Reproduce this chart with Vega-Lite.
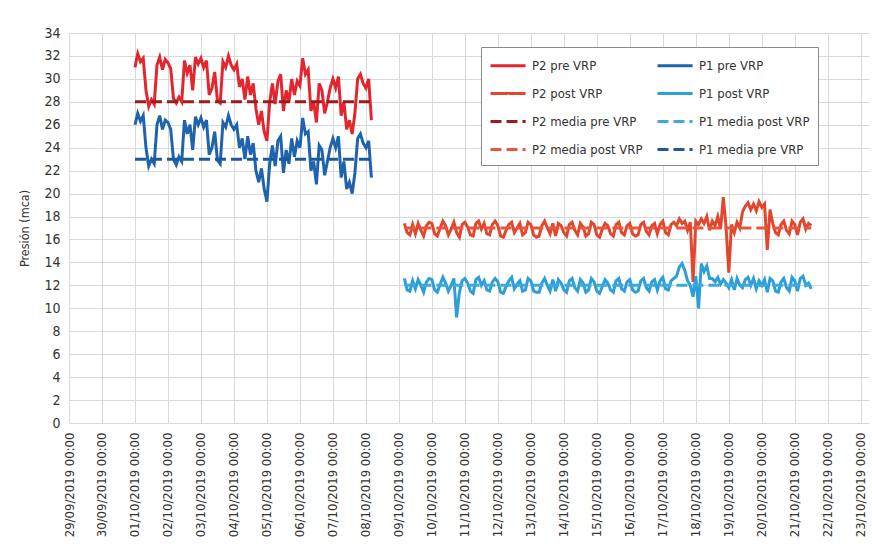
{
  "$schema": "https://vega.github.io/schema/vega-lite/v6.json",
  "width": 800,
  "height": 390,
  "autosize": {"type": "none"},
  "padding": {"left": 69, "top": 33, "right": 3, "bottom": 124},
  "background": "white",
  "config": {
    "view": {"stroke": null},
    "font": "DejaVu Sans Condensed, Liberation Sans, sans-serif",
    "axis": {"gridColor": "#d9d9d9", "gridWidth": 1, "domain": false, "ticks": false, "labelColor": "#333333", "labelFont": "DejaVu Sans Condensed, Liberation Sans, sans-serif", "titleFont": "DejaVu Sans Condensed, Liberation Sans, sans-serif", "titleFontWeight": "normal", "titleColor": "#333333"},
    "legend": {"labelFont": "DejaVu Sans Condensed, Liberation Sans, sans-serif"}
  },
  "datasets": {
    "pre": [
      {"t":"2019-10-01T00:00","P2 pre VRP":31.0,"P1 pre VRP":26.0},
      {"t":"2019-10-01T02:00","P2 pre VRP":32.2,"P1 pre VRP":27.0},
      {"t":"2019-10-01T04:00","P2 pre VRP":31.5,"P1 pre VRP":26.3},
      {"t":"2019-10-01T06:00","P2 pre VRP":31.8,"P1 pre VRP":26.8},
      {"t":"2019-10-01T08:00","P2 pre VRP":29.0,"P1 pre VRP":24.0},
      {"t":"2019-10-01T10:00","P2 pre VRP":27.6,"P1 pre VRP":22.4},
      {"t":"2019-10-01T12:00","P2 pre VRP":28.2,"P1 pre VRP":23.0},
      {"t":"2019-10-01T14:00","P2 pre VRP":27.8,"P1 pre VRP":22.6},
      {"t":"2019-10-01T16:00","P2 pre VRP":31.2,"P1 pre VRP":26.0},
      {"t":"2019-10-01T18:00","P2 pre VRP":31.9,"P1 pre VRP":26.8},
      {"t":"2019-10-01T20:00","P2 pre VRP":30.8,"P1 pre VRP":25.6},
      {"t":"2019-10-01T22:00","P2 pre VRP":31.7,"P1 pre VRP":26.4},
      {"t":"2019-10-02T00:00","P2 pre VRP":31.4,"P1 pre VRP":26.2},
      {"t":"2019-10-02T02:00","P2 pre VRP":30.9,"P1 pre VRP":25.6},
      {"t":"2019-10-02T04:00","P2 pre VRP":28.3,"P1 pre VRP":23.0},
      {"t":"2019-10-02T06:00","P2 pre VRP":27.9,"P1 pre VRP":22.5},
      {"t":"2019-10-02T08:00","P2 pre VRP":28.4,"P1 pre VRP":23.2},
      {"t":"2019-10-02T10:00","P2 pre VRP":28.0,"P1 pre VRP":22.8},
      {"t":"2019-10-02T12:00","P2 pre VRP":31.6,"P1 pre VRP":26.4},
      {"t":"2019-10-02T14:00","P2 pre VRP":30.5,"P1 pre VRP":25.2},
      {"t":"2019-10-02T16:00","P2 pre VRP":31.2,"P1 pre VRP":26.0},
      {"t":"2019-10-02T18:00","P2 pre VRP":29.0,"P1 pre VRP":23.8},
      {"t":"2019-10-02T20:00","P2 pre VRP":31.9,"P1 pre VRP":26.7},
      {"t":"2019-10-02T22:00","P2 pre VRP":31.3,"P1 pre VRP":26.0},
      {"t":"2019-10-03T00:00","P2 pre VRP":31.8,"P1 pre VRP":26.6},
      {"t":"2019-10-03T02:00","P2 pre VRP":31.0,"P1 pre VRP":25.8},
      {"t":"2019-10-03T04:00","P2 pre VRP":31.6,"P1 pre VRP":26.4},
      {"t":"2019-10-03T06:00","P2 pre VRP":28.6,"P1 pre VRP":23.4},
      {"t":"2019-10-03T08:00","P2 pre VRP":29.2,"P1 pre VRP":24.0},
      {"t":"2019-10-03T10:00","P2 pre VRP":30.6,"P1 pre VRP":25.4},
      {"t":"2019-10-03T12:00","P2 pre VRP":28.1,"P1 pre VRP":22.9},
      {"t":"2019-10-03T14:00","P2 pre VRP":27.9,"P1 pre VRP":22.6},
      {"t":"2019-10-03T16:00","P2 pre VRP":31.5,"P1 pre VRP":26.2},
      {"t":"2019-10-03T18:00","P2 pre VRP":31.0,"P1 pre VRP":25.8},
      {"t":"2019-10-03T20:00","P2 pre VRP":32.0,"P1 pre VRP":26.8},
      {"t":"2019-10-03T22:00","P2 pre VRP":31.2,"P1 pre VRP":26.0},
      {"t":"2019-10-04T00:00","P2 pre VRP":30.8,"P1 pre VRP":25.6},
      {"t":"2019-10-04T02:00","P2 pre VRP":31.3,"P1 pre VRP":26.0},
      {"t":"2019-10-04T04:00","P2 pre VRP":29.3,"P1 pre VRP":24.0},
      {"t":"2019-10-04T06:00","P2 pre VRP":30.0,"P1 pre VRP":24.8},
      {"t":"2019-10-04T08:00","P2 pre VRP":28.2,"P1 pre VRP":23.0},
      {"t":"2019-10-04T10:00","P2 pre VRP":30.2,"P1 pre VRP":25.0},
      {"t":"2019-10-04T12:00","P2 pre VRP":28.6,"P1 pre VRP":23.4},
      {"t":"2019-10-04T14:00","P2 pre VRP":29.6,"P1 pre VRP":24.4},
      {"t":"2019-10-04T16:00","P2 pre VRP":27.4,"P1 pre VRP":22.0},
      {"t":"2019-10-04T18:00","P2 pre VRP":26.0,"P1 pre VRP":21.0},
      {"t":"2019-10-04T20:00","P2 pre VRP":27.2,"P1 pre VRP":22.2},
      {"t":"2019-10-04T22:00","P2 pre VRP":25.4,"P1 pre VRP":20.4},
      {"t":"2019-10-05T00:00","P2 pre VRP":24.6,"P1 pre VRP":19.3},
      {"t":"2019-10-05T02:00","P2 pre VRP":28.0,"P1 pre VRP":22.6},
      {"t":"2019-10-05T04:00","P2 pre VRP":29.6,"P1 pre VRP":24.2},
      {"t":"2019-10-05T06:00","P2 pre VRP":27.8,"P1 pre VRP":22.4},
      {"t":"2019-10-05T08:00","P2 pre VRP":29.8,"P1 pre VRP":24.6},
      {"t":"2019-10-05T10:00","P2 pre VRP":30.4,"P1 pre VRP":25.0},
      {"t":"2019-10-05T12:00","P2 pre VRP":27.2,"P1 pre VRP":21.8},
      {"t":"2019-10-05T14:00","P2 pre VRP":29.0,"P1 pre VRP":23.8},
      {"t":"2019-10-05T16:00","P2 pre VRP":28.0,"P1 pre VRP":22.6},
      {"t":"2019-10-05T18:00","P2 pre VRP":30.0,"P1 pre VRP":24.8},
      {"t":"2019-10-05T20:00","P2 pre VRP":28.6,"P1 pre VRP":23.2},
      {"t":"2019-10-05T22:00","P2 pre VRP":29.8,"P1 pre VRP":24.6},
      {"t":"2019-10-06T00:00","P2 pre VRP":29.4,"P1 pre VRP":24.0},
      {"t":"2019-10-06T02:00","P2 pre VRP":31.8,"P1 pre VRP":26.6},
      {"t":"2019-10-06T04:00","P2 pre VRP":30.4,"P1 pre VRP":25.2},
      {"t":"2019-10-06T06:00","P2 pre VRP":30.8,"P1 pre VRP":25.4},
      {"t":"2019-10-06T08:00","P2 pre VRP":27.2,"P1 pre VRP":22.0},
      {"t":"2019-10-06T10:00","P2 pre VRP":28.0,"P1 pre VRP":22.8},
      {"t":"2019-10-06T12:00","P2 pre VRP":26.2,"P1 pre VRP":20.8},
      {"t":"2019-10-06T14:00","P2 pre VRP":29.6,"P1 pre VRP":24.2},
      {"t":"2019-10-06T16:00","P2 pre VRP":29.0,"P1 pre VRP":23.8},
      {"t":"2019-10-06T18:00","P2 pre VRP":27.0,"P1 pre VRP":21.6},
      {"t":"2019-10-06T20:00","P2 pre VRP":28.0,"P1 pre VRP":22.8},
      {"t":"2019-10-06T22:00","P2 pre VRP":29.2,"P1 pre VRP":24.0},
      {"t":"2019-10-07T00:00","P2 pre VRP":30.0,"P1 pre VRP":24.8},
      {"t":"2019-10-07T02:00","P2 pre VRP":29.2,"P1 pre VRP":24.0},
      {"t":"2019-10-07T04:00","P2 pre VRP":30.2,"P1 pre VRP":25.0},
      {"t":"2019-10-07T06:00","P2 pre VRP":26.8,"P1 pre VRP":21.4},
      {"t":"2019-10-07T08:00","P2 pre VRP":28.0,"P1 pre VRP":22.8},
      {"t":"2019-10-07T10:00","P2 pre VRP":25.6,"P1 pre VRP":20.4},
      {"t":"2019-10-07T12:00","P2 pre VRP":26.4,"P1 pre VRP":21.0},
      {"t":"2019-10-07T14:00","P2 pre VRP":25.2,"P1 pre VRP":20.0},
      {"t":"2019-10-07T16:00","P2 pre VRP":27.0,"P1 pre VRP":21.8},
      {"t":"2019-10-07T18:00","P2 pre VRP":30.0,"P1 pre VRP":24.8},
      {"t":"2019-10-07T20:00","P2 pre VRP":30.4,"P1 pre VRP":25.2},
      {"t":"2019-10-07T22:00","P2 pre VRP":29.6,"P1 pre VRP":24.4},
      {"t":"2019-10-08T00:00","P2 pre VRP":29.2,"P1 pre VRP":24.0},
      {"t":"2019-10-08T02:00","P2 pre VRP":30.0,"P1 pre VRP":24.6},
      {"t":"2019-10-08T04:00","P2 pre VRP":26.4,"P1 pre VRP":21.4}
    ],
    "post": [
      {"t":"2019-10-09T04:00","P2 post VRP":17.4,"P1 post VRP":12.6},
      {"t":"2019-10-09T06:00","P2 post VRP":16.6,"P1 post VRP":11.6},
      {"t":"2019-10-09T08:00","P2 post VRP":16.4,"P1 post VRP":11.5},
      {"t":"2019-10-09T10:00","P2 post VRP":17.3,"P1 post VRP":12.4},
      {"t":"2019-10-09T12:00","P2 post VRP":16.5,"P1 post VRP":11.7},
      {"t":"2019-10-09T14:00","P2 post VRP":17.4,"P1 post VRP":12.5},
      {"t":"2019-10-09T16:00","P2 post VRP":16.8,"P1 post VRP":12.0},
      {"t":"2019-10-09T18:00","P2 post VRP":16.3,"P1 post VRP":11.4},
      {"t":"2019-10-09T20:00","P2 post VRP":17.2,"P1 post VRP":12.3},
      {"t":"2019-10-09T22:00","P2 post VRP":17.5,"P1 post VRP":12.6},
      {"t":"2019-10-10T00:00","P2 post VRP":17.4,"P1 post VRP":12.5},
      {"t":"2019-10-10T02:00","P2 post VRP":16.5,"P1 post VRP":11.6},
      {"t":"2019-10-10T04:00","P2 post VRP":16.3,"P1 post VRP":11.4},
      {"t":"2019-10-10T06:00","P2 post VRP":17.0,"P1 post VRP":12.1},
      {"t":"2019-10-10T08:00","P2 post VRP":17.6,"P1 post VRP":12.7},
      {"t":"2019-10-10T10:00","P2 post VRP":17.2,"P1 post VRP":12.2},
      {"t":"2019-10-10T12:00","P2 post VRP":16.4,"P1 post VRP":11.5},
      {"t":"2019-10-10T14:00","P2 post VRP":16.9,"P1 post VRP":12.0},
      {"t":"2019-10-10T16:00","P2 post VRP":17.5,"P1 post VRP":12.6},
      {"t":"2019-10-10T18:00","P2 post VRP":16.6,"P1 post VRP":9.2},
      {"t":"2019-10-10T20:00","P2 post VRP":16.2,"P1 post VRP":11.4},
      {"t":"2019-10-10T22:00","P2 post VRP":17.3,"P1 post VRP":12.4},
      {"t":"2019-10-11T00:00","P2 post VRP":17.5,"P1 post VRP":12.6},
      {"t":"2019-10-11T02:00","P2 post VRP":17.1,"P1 post VRP":12.2},
      {"t":"2019-10-11T04:00","P2 post VRP":16.4,"P1 post VRP":11.5},
      {"t":"2019-10-11T06:00","P2 post VRP":16.3,"P1 post VRP":11.3},
      {"t":"2019-10-11T08:00","P2 post VRP":17.4,"P1 post VRP":12.5},
      {"t":"2019-10-11T10:00","P2 post VRP":17.6,"P1 post VRP":12.7},
      {"t":"2019-10-11T12:00","P2 post VRP":16.9,"P1 post VRP":12.0},
      {"t":"2019-10-11T14:00","P2 post VRP":17.4,"P1 post VRP":12.4},
      {"t":"2019-10-11T16:00","P2 post VRP":16.5,"P1 post VRP":11.6},
      {"t":"2019-10-11T18:00","P2 post VRP":16.4,"P1 post VRP":11.5},
      {"t":"2019-10-11T20:00","P2 post VRP":17.3,"P1 post VRP":12.3},
      {"t":"2019-10-11T22:00","P2 post VRP":17.6,"P1 post VRP":12.6},
      {"t":"2019-10-12T00:00","P2 post VRP":17.2,"P1 post VRP":12.3},
      {"t":"2019-10-12T02:00","P2 post VRP":16.3,"P1 post VRP":11.4},
      {"t":"2019-10-12T04:00","P2 post VRP":16.2,"P1 post VRP":11.3},
      {"t":"2019-10-12T06:00","P2 post VRP":16.8,"P1 post VRP":11.9},
      {"t":"2019-10-12T08:00","P2 post VRP":17.3,"P1 post VRP":12.4},
      {"t":"2019-10-12T10:00","P2 post VRP":17.5,"P1 post VRP":12.7},
      {"t":"2019-10-12T12:00","P2 post VRP":16.6,"P1 post VRP":11.7},
      {"t":"2019-10-12T14:00","P2 post VRP":17.0,"P1 post VRP":12.1},
      {"t":"2019-10-12T16:00","P2 post VRP":17.4,"P1 post VRP":12.4},
      {"t":"2019-10-12T18:00","P2 post VRP":16.4,"P1 post VRP":11.5},
      {"t":"2019-10-12T20:00","P2 post VRP":16.6,"P1 post VRP":11.6},
      {"t":"2019-10-12T22:00","P2 post VRP":17.5,"P1 post VRP":12.6},
      {"t":"2019-10-13T00:00","P2 post VRP":17.3,"P1 post VRP":12.4},
      {"t":"2019-10-13T02:00","P2 post VRP":16.4,"P1 post VRP":11.5},
      {"t":"2019-10-13T04:00","P2 post VRP":16.2,"P1 post VRP":11.4},
      {"t":"2019-10-13T06:00","P2 post VRP":16.3,"P1 post VRP":11.4},
      {"t":"2019-10-13T08:00","P2 post VRP":17.2,"P1 post VRP":12.2},
      {"t":"2019-10-13T10:00","P2 post VRP":17.6,"P1 post VRP":12.6},
      {"t":"2019-10-13T12:00","P2 post VRP":17.0,"P1 post VRP":12.0},
      {"t":"2019-10-13T14:00","P2 post VRP":16.5,"P1 post VRP":11.5},
      {"t":"2019-10-13T16:00","P2 post VRP":17.4,"P1 post VRP":12.5},
      {"t":"2019-10-13T18:00","P2 post VRP":16.3,"P1 post VRP":11.5},
      {"t":"2019-10-13T20:00","P2 post VRP":17.4,"P1 post VRP":12.5},
      {"t":"2019-10-13T22:00","P2 post VRP":17.2,"P1 post VRP":12.2},
      {"t":"2019-10-14T00:00","P2 post VRP":16.6,"P1 post VRP":11.6},
      {"t":"2019-10-14T02:00","P2 post VRP":16.3,"P1 post VRP":11.4},
      {"t":"2019-10-14T04:00","P2 post VRP":17.3,"P1 post VRP":12.4},
      {"t":"2019-10-14T06:00","P2 post VRP":17.5,"P1 post VRP":12.6},
      {"t":"2019-10-14T08:00","P2 post VRP":16.8,"P1 post VRP":11.8},
      {"t":"2019-10-14T10:00","P2 post VRP":16.4,"P1 post VRP":11.5},
      {"t":"2019-10-14T12:00","P2 post VRP":17.4,"P1 post VRP":12.5},
      {"t":"2019-10-14T14:00","P2 post VRP":17.1,"P1 post VRP":12.2},
      {"t":"2019-10-14T16:00","P2 post VRP":16.3,"P1 post VRP":11.4},
      {"t":"2019-10-14T18:00","P2 post VRP":16.5,"P1 post VRP":11.6},
      {"t":"2019-10-14T20:00","P2 post VRP":17.5,"P1 post VRP":12.6},
      {"t":"2019-10-14T22:00","P2 post VRP":17.3,"P1 post VRP":12.3},
      {"t":"2019-10-15T00:00","P2 post VRP":16.4,"P1 post VRP":11.5},
      {"t":"2019-10-15T02:00","P2 post VRP":16.2,"P1 post VRP":11.3},
      {"t":"2019-10-15T04:00","P2 post VRP":16.9,"P1 post VRP":11.9},
      {"t":"2019-10-15T06:00","P2 post VRP":17.4,"P1 post VRP":12.5},
      {"t":"2019-10-15T08:00","P2 post VRP":17.2,"P1 post VRP":12.2},
      {"t":"2019-10-15T10:00","P2 post VRP":16.5,"P1 post VRP":11.6},
      {"t":"2019-10-15T12:00","P2 post VRP":16.3,"P1 post VRP":11.4},
      {"t":"2019-10-15T14:00","P2 post VRP":17.3,"P1 post VRP":12.4},
      {"t":"2019-10-15T16:00","P2 post VRP":17.5,"P1 post VRP":12.6},
      {"t":"2019-10-15T18:00","P2 post VRP":16.6,"P1 post VRP":11.7},
      {"t":"2019-10-15T20:00","P2 post VRP":16.4,"P1 post VRP":11.5},
      {"t":"2019-10-15T22:00","P2 post VRP":17.2,"P1 post VRP":12.3},
      {"t":"2019-10-16T00:00","P2 post VRP":17.4,"P1 post VRP":12.5},
      {"t":"2019-10-16T02:00","P2 post VRP":16.5,"P1 post VRP":11.6},
      {"t":"2019-10-16T04:00","P2 post VRP":16.3,"P1 post VRP":11.4},
      {"t":"2019-10-16T06:00","P2 post VRP":16.4,"P1 post VRP":11.5},
      {"t":"2019-10-16T08:00","P2 post VRP":17.3,"P1 post VRP":12.4},
      {"t":"2019-10-16T10:00","P2 post VRP":17.5,"P1 post VRP":12.6},
      {"t":"2019-10-16T12:00","P2 post VRP":16.7,"P1 post VRP":11.8},
      {"t":"2019-10-16T14:00","P2 post VRP":16.4,"P1 post VRP":11.5},
      {"t":"2019-10-16T16:00","P2 post VRP":17.2,"P1 post VRP":12.3},
      {"t":"2019-10-16T18:00","P2 post VRP":17.4,"P1 post VRP":12.5},
      {"t":"2019-10-16T20:00","P2 post VRP":16.5,"P1 post VRP":11.6},
      {"t":"2019-10-16T22:00","P2 post VRP":17.3,"P1 post VRP":12.4},
      {"t":"2019-10-17T00:00","P2 post VRP":17.6,"P1 post VRP":12.7},
      {"t":"2019-10-17T02:00","P2 post VRP":16.6,"P1 post VRP":11.7},
      {"t":"2019-10-17T04:00","P2 post VRP":16.4,"P1 post VRP":11.6},
      {"t":"2019-10-17T06:00","P2 post VRP":17.3,"P1 post VRP":12.4},
      {"t":"2019-10-17T08:00","P2 post VRP":17.5,"P1 post VRP":12.6},
      {"t":"2019-10-17T10:00","P2 post VRP":17.2,"P1 post VRP":12.8},
      {"t":"2019-10-17T12:00","P2 post VRP":17.8,"P1 post VRP":13.6},
      {"t":"2019-10-17T14:00","P2 post VRP":17.4,"P1 post VRP":13.9},
      {"t":"2019-10-17T16:00","P2 post VRP":17.6,"P1 post VRP":13.3},
      {"t":"2019-10-17T18:00","P2 post VRP":16.8,"P1 post VRP":12.4},
      {"t":"2019-10-17T20:00","P2 post VRP":17.5,"P1 post VRP":12.0},
      {"t":"2019-10-17T22:00","P2 post VRP":12.3,"P1 post VRP":11.0},
      {"t":"2019-10-18T00:00","P2 post VRP":17.6,"P1 post VRP":12.8},
      {"t":"2019-10-18T02:00","P2 post VRP":17.3,"P1 post VRP":10.0},
      {"t":"2019-10-18T04:00","P2 post VRP":17.8,"P1 post VRP":13.9},
      {"t":"2019-10-18T06:00","P2 post VRP":17.4,"P1 post VRP":13.2},
      {"t":"2019-10-18T08:00","P2 post VRP":18.0,"P1 post VRP":13.7},
      {"t":"2019-10-18T10:00","P2 post VRP":16.8,"P1 post VRP":12.6},
      {"t":"2019-10-18T12:00","P2 post VRP":17.6,"P1 post VRP":12.6},
      {"t":"2019-10-18T14:00","P2 post VRP":17.2,"P1 post VRP":12.3},
      {"t":"2019-10-18T16:00","P2 post VRP":18.0,"P1 post VRP":12.7},
      {"t":"2019-10-18T18:00","P2 post VRP":16.9,"P1 post VRP":12.1},
      {"t":"2019-10-18T20:00","P2 post VRP":19.7,"P1 post VRP":12.5},
      {"t":"2019-10-18T22:00","P2 post VRP":17.1,"P1 post VRP":12.2},
      {"t":"2019-10-19T00:00","P2 post VRP":13.1,"P1 post VRP":11.8},
      {"t":"2019-10-19T02:00","P2 post VRP":17.3,"P1 post VRP":12.5},
      {"t":"2019-10-19T04:00","P2 post VRP":16.6,"P1 post VRP":11.6},
      {"t":"2019-10-19T06:00","P2 post VRP":17.5,"P1 post VRP":12.6},
      {"t":"2019-10-19T08:00","P2 post VRP":17.0,"P1 post VRP":12.0},
      {"t":"2019-10-19T10:00","P2 post VRP":18.4,"P1 post VRP":11.8},
      {"t":"2019-10-19T12:00","P2 post VRP":18.9,"P1 post VRP":12.5},
      {"t":"2019-10-19T14:00","P2 post VRP":19.2,"P1 post VRP":12.7},
      {"t":"2019-10-19T16:00","P2 post VRP":18.6,"P1 post VRP":12.0},
      {"t":"2019-10-19T18:00","P2 post VRP":19.1,"P1 post VRP":12.6},
      {"t":"2019-10-19T20:00","P2 post VRP":18.5,"P1 post VRP":11.7},
      {"t":"2019-10-19T22:00","P2 post VRP":19.3,"P1 post VRP":12.4},
      {"t":"2019-10-20T00:00","P2 post VRP":18.8,"P1 post VRP":12.0},
      {"t":"2019-10-20T02:00","P2 post VRP":19.1,"P1 post VRP":12.5},
      {"t":"2019-10-20T04:00","P2 post VRP":15.1,"P1 post VRP":11.4},
      {"t":"2019-10-20T06:00","P2 post VRP":18.6,"P1 post VRP":12.6},
      {"t":"2019-10-20T08:00","P2 post VRP":17.4,"P1 post VRP":12.4},
      {"t":"2019-10-20T10:00","P2 post VRP":16.6,"P1 post VRP":11.5},
      {"t":"2019-10-20T12:00","P2 post VRP":16.4,"P1 post VRP":11.4},
      {"t":"2019-10-20T14:00","P2 post VRP":17.3,"P1 post VRP":12.3},
      {"t":"2019-10-20T16:00","P2 post VRP":17.6,"P1 post VRP":12.6},
      {"t":"2019-10-20T18:00","P2 post VRP":16.8,"P1 post VRP":11.8},
      {"t":"2019-10-20T20:00","P2 post VRP":16.5,"P1 post VRP":11.5},
      {"t":"2019-10-20T22:00","P2 post VRP":17.6,"P1 post VRP":12.7},
      {"t":"2019-10-21T00:00","P2 post VRP":17.3,"P1 post VRP":12.4},
      {"t":"2019-10-21T02:00","P2 post VRP":16.4,"P1 post VRP":11.5},
      {"t":"2019-10-21T04:00","P2 post VRP":17.5,"P1 post VRP":12.6},
      {"t":"2019-10-21T06:00","P2 post VRP":17.8,"P1 post VRP":12.8},
      {"t":"2019-10-21T08:00","P2 post VRP":16.9,"P1 post VRP":12.0},
      {"t":"2019-10-21T10:00","P2 post VRP":17.4,"P1 post VRP":12.2},
      {"t":"2019-10-21T12:00","P2 post VRP":17.2,"P1 post VRP":11.7}
    ],
    "media": [
      {"s":"P2 media pre VRP","t":"2019-10-01T00:00","v":28},
      {"s":"P2 media pre VRP","t":"2019-10-08T04:00","v":28},
      {"s":"P1 media pre VRP","t":"2019-10-01T00:00","v":23},
      {"s":"P1 media pre VRP","t":"2019-10-08T04:00","v":23},
      {"s":"P2 media post VRP","t":"2019-10-09T04:00","v":17},
      {"s":"P2 media post VRP","t":"2019-10-21T12:00","v":17},
      {"s":"P1 media post VRP","t":"2019-10-09T04:00","v":12},
      {"s":"P1 media post VRP","t":"2019-10-21T12:00","v":12}
    ]
  },
  "encoding": {
    "x": {
      "field": "t", "type": "temporal",
      "scale": {"domain": [{"year": 2019, "month": 9, "date": 29}, {"year": 2019, "month": 10, "date": 23, "hours": 6}]},
      "axis": {"title": null, "format": "%d/%m/%Y %H:%M", "tickCount": {"interval": "day", "step": 1}, "labelAngle": 270, "labelAlign": "right", "labelBaseline": "middle", "labelPadding": 9, "labelFontSize": 13, "labelOverlap": false, "labelFlush": false}
    },
    "y": {
      "field": "v", "type": "quantitative",
      "scale": {"domain": [0, 34], "nice": false},
      "axis": {"title": "Presión (mca)", "values": [0,2,4,6,8,10,12,14,16,18,20,22,24,26,28,30,32,34], "labelFontSize": 14, "labelPadding": 9, "titleFontSize": 12.5, "titlePadding": 12}
    },
    "color": {
      "field": "s", "type": "nominal",
      "scale": {
        "domain": ["P2 pre VRP", "P1 pre VRP", "P2 post VRP", "P1 post VRP", "P2 media pre VRP", "P1 media post VRP", "P2 media post VRP", "P1 media pre VRP"],
        "range": ["#e3262e", "#1f63ad", "#e2472e", "#2c9fd9", "#9b1c1f", "#3aa9e0", "#e8573c", "#1b5a9c"]
      },
      "legend": {
        "title": null, "orient": "none", "legendX": 412, "legendY": 14, "columns": 2, "direction": "horizontal", "gridAlign": "all",
        "fillColor": "white", "strokeColor": "#8a8a8a", "padding": 8,
        "symbolType": "M-1,0H2.9", "symbolSize": 324, "symbolStrokeWidth": 2,
        "labelFontSize": 13, "labelColor": "#333333", "labelOffset": 22, "labelLimit": 200,
        "rowPadding": 10, "columnPadding": 8
      }
    },
    "strokeDash": {
      "field": "s", "type": "nominal",
      "scale": {
        "domain": ["P2 pre VRP", "P1 pre VRP", "P2 post VRP", "P1 post VRP", "P2 media pre VRP", "P1 media post VRP", "P2 media post VRP", "P1 media pre VRP"],
        "range": [[1,0], [1,0], [1,0], [1,0], [11,5], [11,5], [11,5], [11,5]]
      }
    },
    "strokeWidth": {
      "field": "s", "type": "nominal",
      "scale": {
        "domain": ["P2 pre VRP", "P1 pre VRP", "P2 post VRP", "P1 post VRP", "P2 media pre VRP", "P1 media post VRP", "P2 media post VRP", "P1 media pre VRP"],
        "range": [3, 3, 2.4, 2.4, 3.8, 3.8, 3.8, 3.8]
      }
    }
  },
  "layer": [
    {
      "data": {"name": "pre"},
      "transform": [{"fold": ["P2 pre VRP", "P1 pre VRP"], "as": ["s", "v"]}],
      "mark": {"type": "line", "interpolate": "linear"}
    },
    {
      "data": {"name": "post"},
      "transform": [{"fold": ["P2 post VRP", "P1 post VRP"], "as": ["s", "v"]}],
      "mark": {"type": "line", "interpolate": "linear"}
    },
    {
      "data": {"name": "media"},
      "mark": {"type": "line"}
    }
  ]
}
